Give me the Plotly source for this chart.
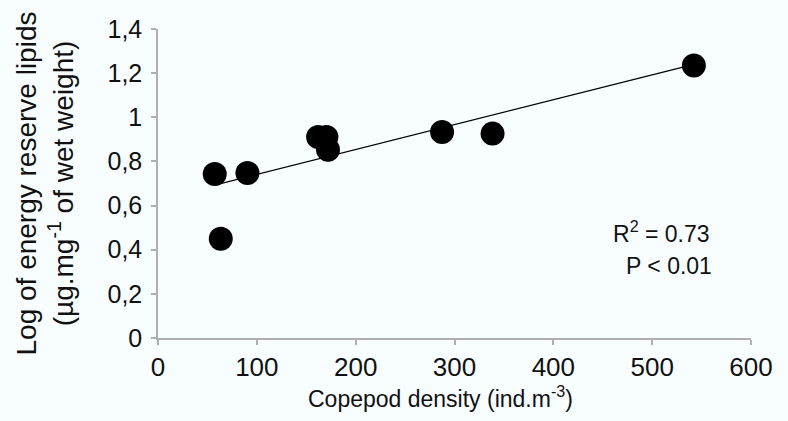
import plotly.graph_objects as go

# Data
density = [57.4, 63.5, 90.5, 162.0, 170.4, 172.0, 287.4, 338.5, 542.2]
log_lipids = [0.743, 0.450, 0.748, 0.911, 0.911, 0.853, 0.933, 0.926, 1.235]
trend_x = [57.4, 542.2]
trend_y = [0.693, 1.240]
x_ticks = [0, 100, 200, 300, 400, 500, 600]
y_ticks = [0, 0.2, 0.4, 0.6, 0.8, 1.0, 1.2, 1.4]
y_ticklabels = ["0", "0,2", "0,4", "0,6", "0,8", "1", "1,2", "1,4"]
stats_lines = ["R<sup>2</sup> = 0.73", "P < 0.01"]
stats_pos_x = [509, 517]
stats_pos_y = [0.482, 0.328]

BG = "#F8FEFF"
AX = "#B0B0B0"
FONT = "Liberation Sans, Arial, sans-serif"
TXT = "#111111"

fig = go.Figure()
fig.add_trace(go.Scatter(x=trend_x, y=trend_y, mode="lines",
                         line=dict(color="black", width=1.2), showlegend=False))
fig.add_trace(go.Scatter(x=density, y=log_lipids, mode="markers",
                         marker=dict(color="black", size=24), showlegend=False))

for t, ax_, ay_ in zip(stats_lines, stats_pos_x, stats_pos_y):
    fig.add_annotation(x=ax_, y=ay_, xref="x", yref="y", text=t, showarrow=False,
                       font=dict(family=FONT, size=23, color=TXT))

# x-axis title (placed slightly left of centre, as in the reference)
fig.add_annotation(x=0.4764, y=-0.19, xref="paper", yref="paper",
                   text="Copepod density (ind.m<sup>-3</sup>)", showarrow=False,
                   xanchor="center", yanchor="middle",
                   font=dict(family=FONT, size=23, color=TXT))

fig.update_layout(
    width=788, height=421,
    margin=dict(l=158, r=37, t=29, b=83),
    paper_bgcolor=BG, plot_bgcolor=BG,
    xaxis=dict(range=[0, 600], tickvals=x_ticks, showgrid=False, zeroline=False,
               showline=True, linecolor=AX, linewidth=1.5, ticks="outside",
               ticklen=5, tickcolor=AX, tickwidth=1.5,
               tickfont=dict(family=FONT, size=26, color=TXT)),
    yaxis=dict(range=[0, 1.4], tickvals=y_ticks, ticktext=y_ticklabels,
               showgrid=False, zeroline=False,
               showline=True, linecolor=AX, linewidth=1.5, ticks="outside",
               ticklen=5, tickcolor=AX, tickwidth=1.5, ticklabelstandoff=4,
               tickfont=dict(family=FONT, size=25, color=TXT),
               title=dict(text="Log of energy reserve lipids<br>(µg.mg<sup>-1</sup> of wet weight)",
                          font=dict(family=FONT, size=28, color=TXT),
                          standoff=26)),
)

fig.write_html("out.html")
